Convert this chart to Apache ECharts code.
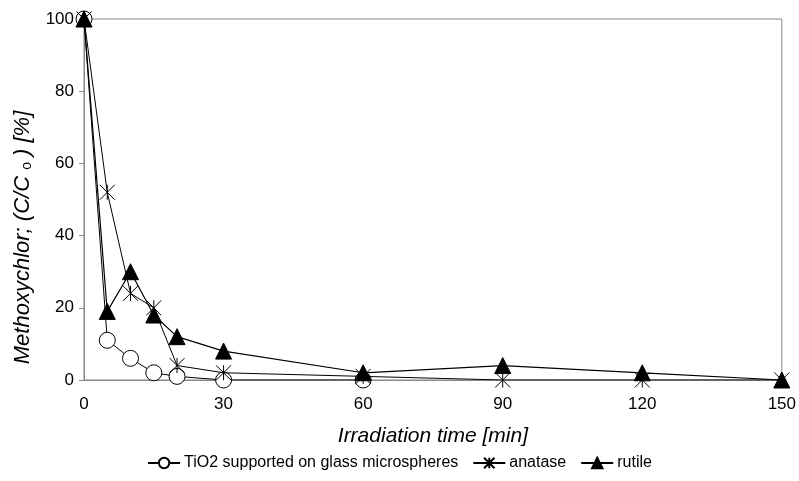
<!DOCTYPE html>
<html><head><meta charset="utf-8">
<script src="https://cdn.jsdelivr.net/npm/echarts@6/dist/echarts.min.js"></script>
<style>html,body{margin:0;padding:0;background:#fff}#c{width:799px;height:481px}</style>
</head><body><div id="c"></div>
<script>
const timesTiO2 = [0, 5, 10, 15, 20, 30, 60];
const valuesTiO2 = [100, 11, 6, 2, 1, 0, 0];
const timesAnatase = [0, 5, 10, 15, 20, 30, 60, 90, 120, 150];
const valuesAnatase = [100, 52, 24, 20, 4, 2, 1, 0, 0, 0];
const timesRutile = [0, 5, 10, 15, 20, 30, 60, 90, 120, 150];
const valuesRutile = [100, 19, 30, 18, 12, 8, 2, 4, 2, 0];
const seriesNames = ['TiO2 supported on glass microspheres', 'anatase', 'rutile'];

const pairs = (xs, ys) => xs.map((x, i) => [x, ys[i]]);
const star = 'path://M0,0 L10,10 M10,0 L0,10 M5,0 L5,10';
const font = 'Liberation Sans, Arial, sans-serif';

const chart = echarts.init(document.getElementById('c'), null, {renderer: 'canvas'});
chart.setOption({
  animation: false,
  backgroundColor: '#fff',
  grid: {left: 84, right: 14, top: 19, bottom: 101, show: true, borderColor: '#888', borderWidth: 1, backgroundColor: 'transparent'},
  xAxis: {
    type: 'value', min: 0, max: 150, interval: 30,
    name: 'Irradiation time [min]', nameLocation: 'middle', nameGap: 46,
    nameTextStyle: {fontFamily: font, fontSize: 21, fontStyle: 'italic', color: '#000'},
    axisLine: {lineStyle: {color: '#888', width: 1}},
    axisTick: {show: false},
    axisLabel: {fontFamily: font, fontSize: 17, color: '#000', margin: 16},
    splitLine: {show: false}
  },
  yAxis: {
    type: 'value', min: 0, max: 100, interval: 20,
    name: '{a|Methoxychlor; (C/C }{s|o}{a| ) [%]}', nameLocation: 'middle', nameGap: 50,
    nameTextStyle: {
      padding: [0, 76, 0, 0],
      rich: {
        a: {fontFamily: font, fontSize: 22, fontStyle: 'italic', color: '#000'},
        s: {fontFamily: font, fontSize: 14, color: '#000', verticalAlign: 'bottom', padding: [8, 0, 0, 0]}
      }
    },
    axisLine: {show: true, lineStyle: {color: '#888', width: 1}},
    axisTick: {show: true, length: 5, lineStyle: {color: '#888'}},
    axisLabel: {fontFamily: font, fontSize: 17, color: '#000', margin: 10},
    splitLine: {show: false}
  },
  legend: {
    bottom: 5, left: 'center', itemGap: 14, itemWidth: 32, itemHeight: 13,
    textStyle: {fontFamily: font, fontSize: 16, color: '#000', padding: [0, 0, 0, -1]},
    data: seriesNames
  },
  series: [
    {
      name: seriesNames[0], type: 'line', data: pairs(timesTiO2, valuesTiO2),
      symbol: 'circle', symbolSize: 16, z: 3,
      lineStyle: {color: '#000', width: 1},
      itemStyle: {color: '#fff', borderColor: '#000', borderWidth: 1}
    },
    {
      name: seriesNames[1], type: 'line', data: pairs(timesAnatase, valuesAnatase),
      symbol: star, symbolSize: 15, z: 4,
      lineStyle: {color: '#000', width: 1},
      itemStyle: {color: 'none', borderColor: '#000', borderWidth: 1}
    },
    {
      name: seriesNames[2], type: 'line', data: pairs(timesRutile, valuesRutile),
      symbol: 'triangle', symbolSize: 16, z: 5,
      lineStyle: {color: '#000', width: 1.2},
      itemStyle: {color: '#000', borderColor: '#000', borderWidth: 1}
    }
  ]
});
</script></body></html>
